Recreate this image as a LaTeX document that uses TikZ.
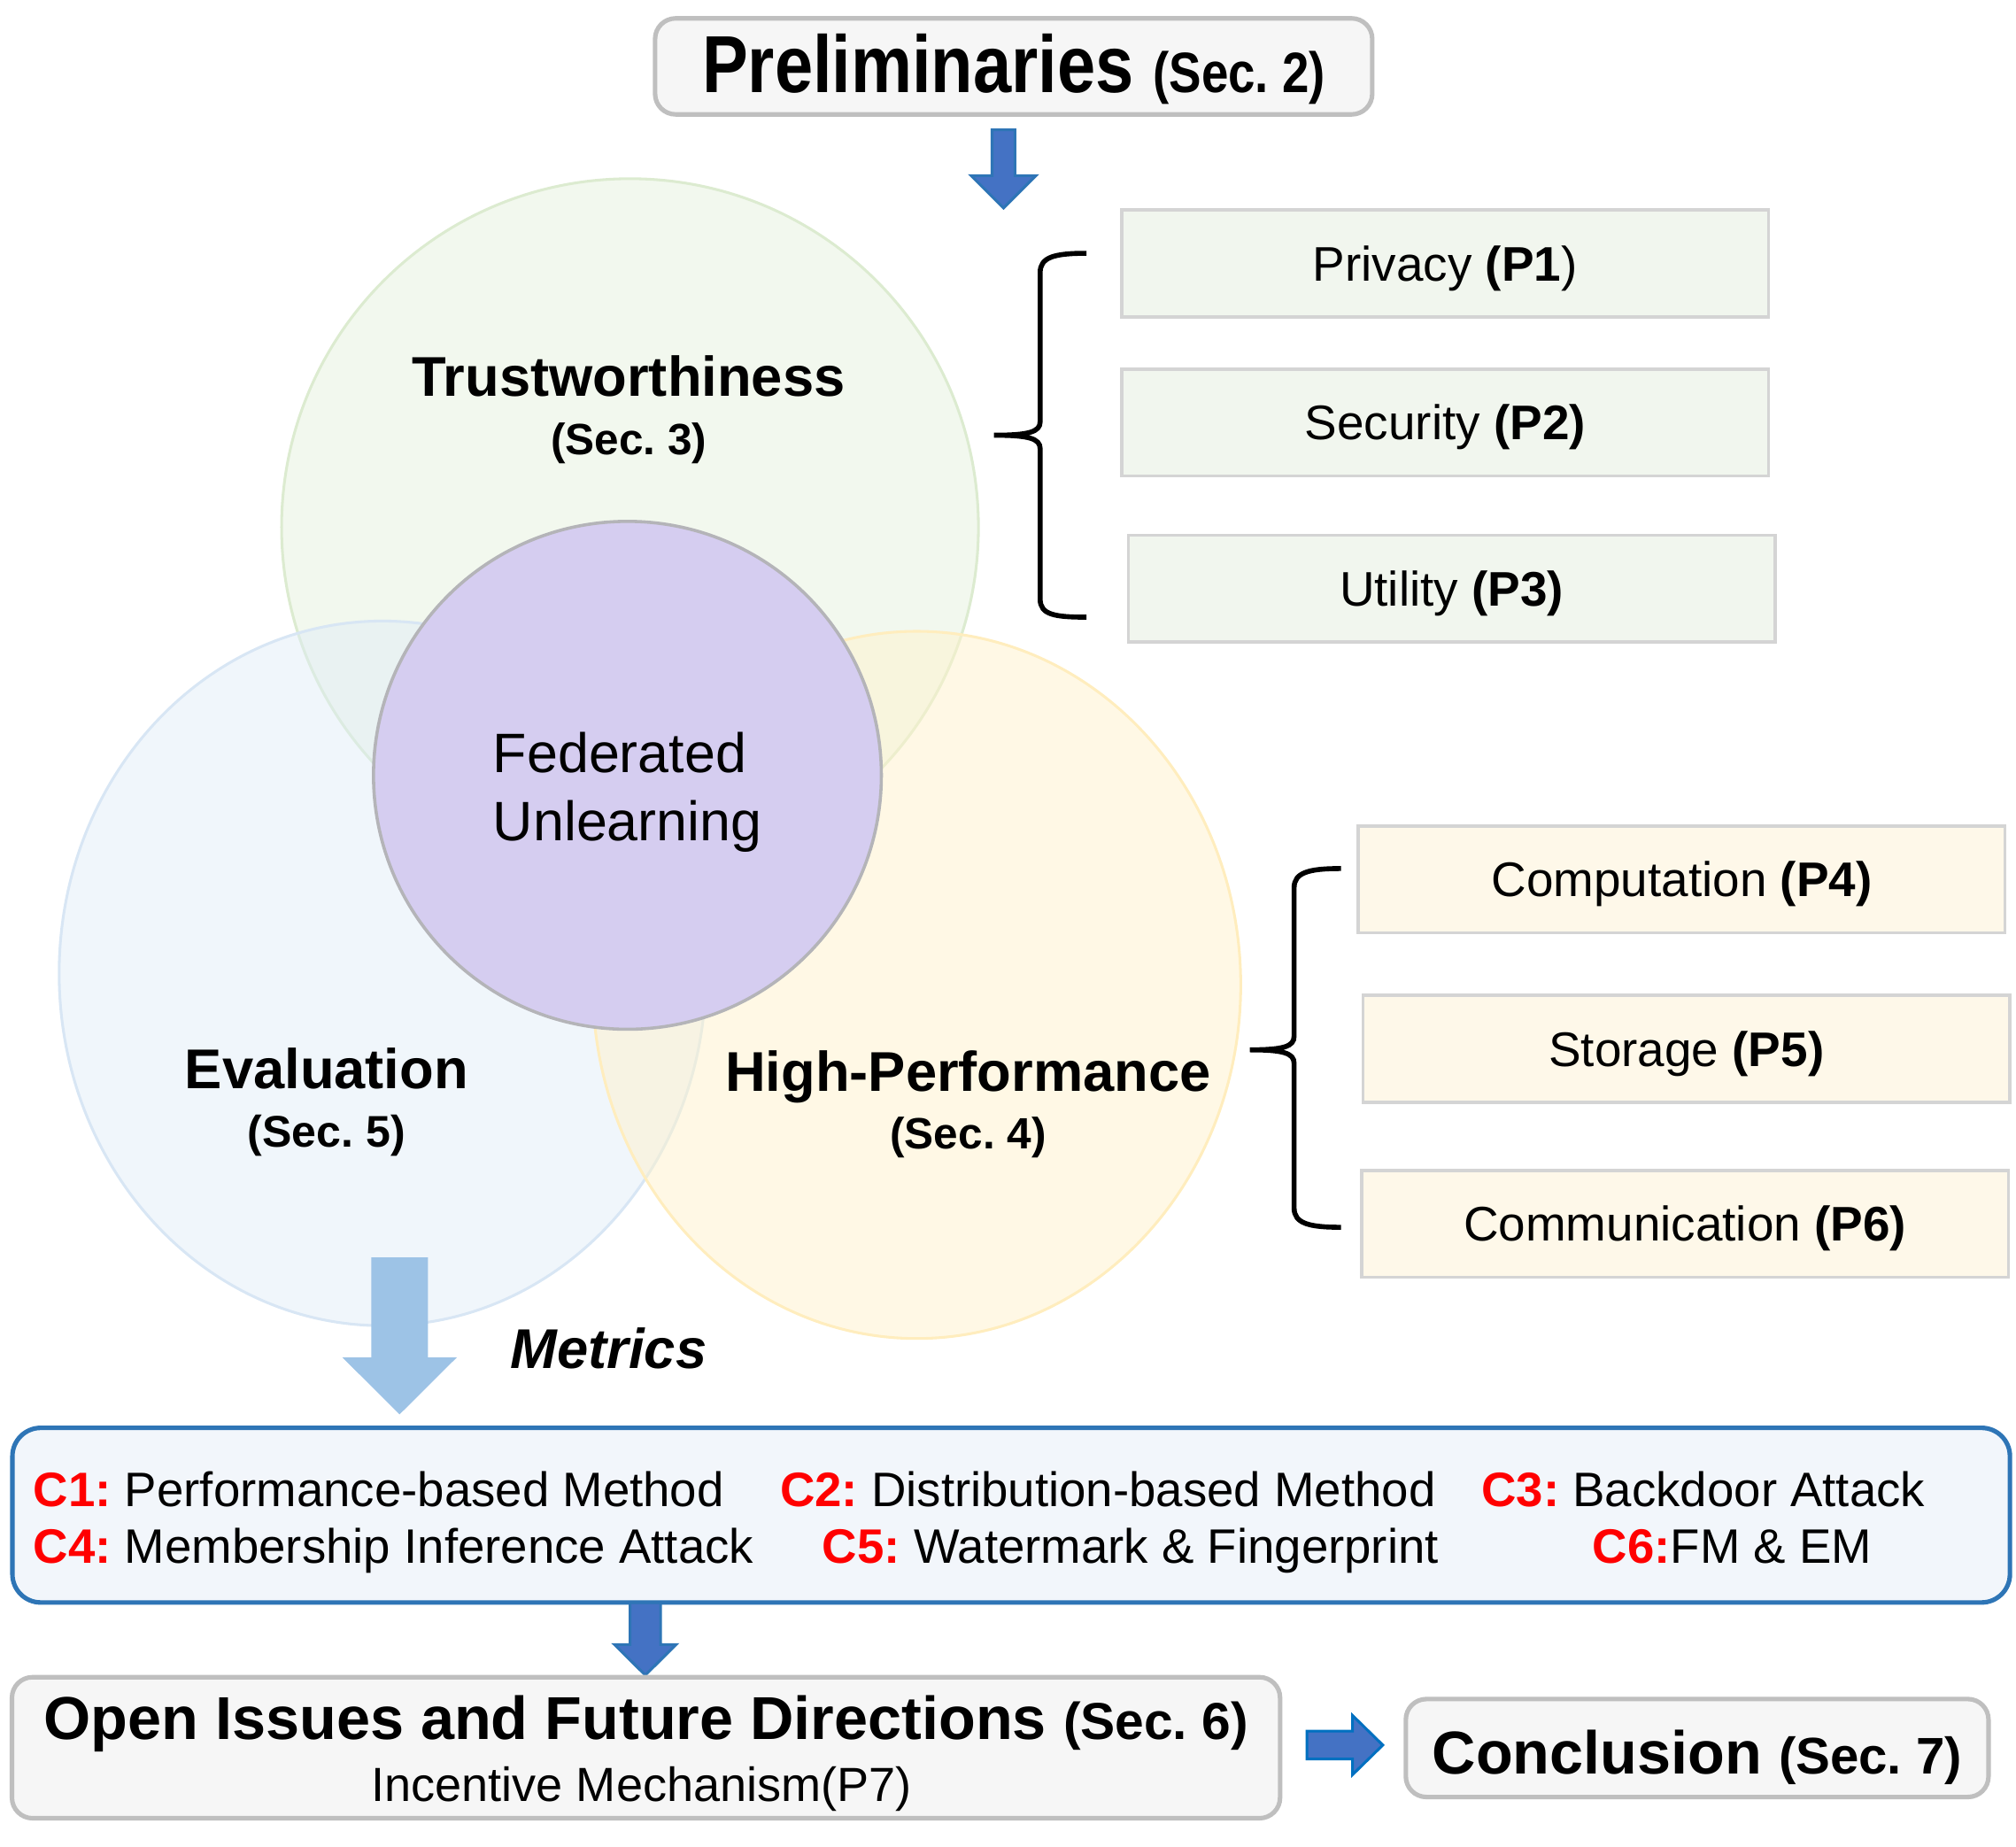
\documentclass[tikz,border=0pt]{standalone}
\usepackage{fontspec}
\setmainfont{Liberation Sans}
\newfontfamily\narrowsans[FakeStretch=0.85]{Liberation Sans}
\definecolor{trustgreen}{HTML}{E2EFD9}
\definecolor{trustedge}{HTML}{DCEBD0}
\definecolor{evalblue}{HTML}{DEEBF7}
\definecolor{evaledge}{HTML}{D8E6F4}
\definecolor{perfyellow}{HTML}{FFF2CC}
\definecolor{perfedge}{HTML}{FFEDBE}
\definecolor{fulilac}{HTML}{D5CDF0}
\definecolor{fuedge}{HTML}{B4B4B8}
\definecolor{secgray}{HTML}{F6F6F6}
\definecolor{edgegray}{HTML}{BFBFBF}
\definecolor{boxedge}{HTML}{D4D4D4}
\definecolor{pgreen}{HTML}{F1F6EE}
\definecolor{pyellow}{HTML}{FEF8E9}
\definecolor{metricfill}{HTML}{F2F6FB}
\definecolor{metricedge}{HTML}{2E75B6}
\definecolor{arrowblue}{HTML}{4472C4}
\definecolor{arrowedge}{HTML}{0070C0}
\definecolor{lightarrow}{HTML}{9DC3E6}
\newcommand{\critlabel}[1]{\textcolor{red}{\bfseries C#1:}}
\frenchspacing

\begin{document}
\begin{tikzpicture}[
    secbox/.style={draw=edgegray, line width=1pt, fill=secgray, rounded corners=0.16cm, text depth=0pt, font=\bfseries},
    pbox/.style={draw=boxedge, line width=0.7pt, minimum width=5.03cm, minimum height=0.83cm, text height=2.7mm, text depth=0pt, font=\fontsize{10.75pt}{12pt}\selectfont},
    bracket/.style={line width=1.1pt},
    blockarrow/.style={fill=arrowblue, draw=metricedge, line width=0.6pt},
    venntitle/.style={align=center, font=\bfseries\fontsize{12.4pt}{12.9pt}\selectfont},
    crit/.style={anchor=base west, inner sep=0pt, font=\fontsize{10.7pt}{12pt}\selectfont}
]
    \useasboundingbox (0,0) rectangle (15.68,-14.36);

    \node[secbox, minimum width=5.578cm, minimum height=0.747cm, text height=4.13mm] (prelim) at (7.884,-0.5165) {{\narrowsans\fontsize{17.9pt}{20pt}\selectfont Preliminaries }{\narrowsans\fontsize{12.6pt}{15pt}\selectfont (Sec.~2)}};
    \filldraw[blockarrow] (7.716,-1.01) -- (7.894,-1.01) -- (7.894,-1.366) -- (8.057,-1.366) -- (7.805,-1.618) -- (7.553,-1.366) -- (7.716,-1.366) -- cycle;

    \filldraw[fill=trustgreen, fill opacity=0.45, draw=trustedge, line width=0.6pt] (4.90,-4.10) circle (2.71);
    \filldraw[fill=evalblue, fill opacity=0.45, draw=evaledge, line width=0.6pt] (2.975,-7.57) ellipse [x radius=2.515, y radius=2.74];
    \filldraw[fill=perfyellow, fill opacity=0.5, draw=perfedge, line width=0.6pt] (7.13,-7.66) ellipse [x radius=2.52, y radius=2.75];
    \node[circle, draw=fuedge, fill=fulilac, line width=0.7pt, minimum size=3.95cm, inner sep=0pt] (fu) at (4.88,-6.03) {};
    \node[align=left, font=\fontsize{12.3pt}{15.1pt}\selectfont] (fulab) at ([yshift=-0.133cm]fu.center) {Federated\\Unlearning};

    \node[venntitle] (trustlab) at (4.89,-3.189) {Trustworthiness\\{\fontsize{9.7pt}{12.9pt}\selectfont (Sec.~3)}};
    \node[venntitle] (evallab) at (2.54,-8.569) {Evaluation\\{\fontsize{9.8pt}{12.9pt}\selectfont (Sec.~5)}};
    \node[venntitle] (perflab) at (7.53,-8.589) {High-Performance\\{\fontsize{9.7pt}{12.9pt}\selectfont (Sec.~4)}};

    \draw[bracket] (8.45,-1.97) .. controls (8.20,-1.97) and (8.09,-2.00) .. (8.09,-2.12) -- (8.09,-3.28) .. controls (8.09,-3.36) and (8.00,-3.385) .. (7.73,-3.385) .. controls (8.00,-3.385) and (8.09,-3.41) .. (8.09,-3.49) -- (8.09,-4.66) .. controls (8.09,-4.78) and (8.20,-4.80) .. (8.45,-4.80);
    \draw[bracket] (10.43,-6.755) .. controls (10.18,-6.755) and (10.065,-6.785) .. (10.065,-6.905) -- (10.065,-8.06) .. controls (10.065,-8.14) and (9.98,-8.165) .. (9.72,-8.165) .. controls (9.98,-8.165) and (10.065,-8.19) .. (10.065,-8.27) -- (10.065,-9.395) .. controls (10.065,-9.515) and (10.18,-9.545) .. (10.43,-9.545);

    \node[pbox, fill=pgreen] (p1) at (11.24,-2.049) {Privacy \textbf{(P1})};
    \node[pbox, fill=pgreen] (p2) at (11.24,-3.286) {Security \textbf{(P2)}};
    \node[pbox, fill=pgreen] (p3) at (11.29,-4.579) {Utility \textbf{(P3)}};
    \node[pbox, fill=pyellow] (p4) at (13.08,-6.839) {Computation \textbf{(P4)}};
    \node[pbox, fill=pyellow] (p5) at (13.117,-8.157) {Storage \textbf{(P5)}};
    \node[pbox, fill=pyellow] (p6) at (13.105,-9.519) {Communication \textbf{(P6)}};

    \fill[lightarrow] (2.888,-9.78) -- (3.328,-9.78) -- (3.328,-10.558) -- (3.552,-10.558) -- (3.108,-11.00) -- (2.664,-10.558) -- (2.888,-10.558) -- cycle;
    \node[anchor=base, font=\bfseries\itshape\fontsize{12.4pt}{14pt}\selectfont] (metrics) at (4.734,-10.64) {Metrics};

    \node[draw=metricedge, fill=metricfill, line width=1pt, rounded corners=0.22cm, minimum width=15.536cm, minimum height=1.358cm] (metricbox) at (7.8645,-11.784) {};
    \node[crit] (c1) at (0.253,-11.715) {\critlabel{1} Performance-based Method};
    \node[crit] (c2) at (6.06,-11.715) {\critlabel{2} Distribution-based Method};
    \node[crit] (c3) at (11.516,-11.715) {\critlabel{3} Backdoor Attack};
    \node[crit] (c4) at (0.253,-12.16) {\critlabel{4} Membership Inference Attack};
    \node[crit] (c5) at (6.39,-12.16) {\critlabel{5} Watermark \& Fingerprint};
    \node[crit] (c6) at (12.38,-12.16) {\critlabel{6}FM \& EM};

    \filldraw[blockarrow] (4.900,-12.465) -- (5.138,-12.465) -- (5.138,-12.79) -- (5.259,-12.79) -- (5.019,-13.028) -- (4.779,-12.79) -- (4.900,-12.79) -- cycle;

    \node[secbox, minimum width=9.863cm, minimum height=1.097cm, text height=0pt, text depth=1.25mm] (openbox) at (5.0245,-13.5925) {{\fontsize{13.4pt}{15pt}\selectfont Open Issues and Future Directions }{\fontsize{11.5pt}{13pt}\selectfont (Sec.~6)}};
    \node[anchor=base, inner sep=0pt, font=\fontsize{10.6pt}{12pt}\selectfont] (p7) at (4.99,-14.01) {Incentive Mechanism(P7)};

    \filldraw[blockarrow, draw=arrowedge] (10.165,-13.464) -- (10.52,-13.464) -- (10.52,-13.342) -- (10.755,-13.572) -- (10.52,-13.802) -- (10.52,-13.68) -- (10.165,-13.68) -- cycle;
    \node[secbox, minimum width=4.532cm, minimum height=0.762cm, text height=4.0mm] (conclbox) at (13.20,-13.595) {{\fontsize{13.4pt}{15pt}\selectfont Conclusion }{\fontsize{11.4pt}{13pt}\selectfont (Sec.~7)}};
\end{tikzpicture}
\end{document}
